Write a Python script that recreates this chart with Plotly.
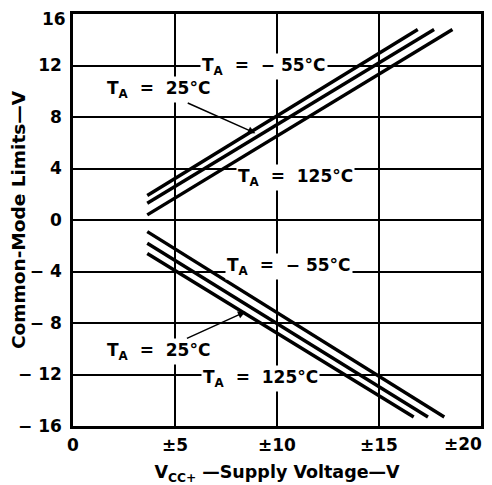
import plotly.graph_objects as go

# supply voltage (±V) at the start / end of each curve, and the common-mode limit there
upper_vcc = {"-55": [3.64, 16.9], "25": [3.64, 17.7], "125": [3.64, 18.6]}
upper_vcm = {"-55": [1.9, 14.8], "25": [1.3, 14.8], "125": [0.4, 14.8]}
lower_vcc = {"-55": [3.64, 18.2], "25": [3.64, 17.4], "125": [3.64, 16.7]}
lower_vcm = {"-55": [-0.9, -15.3], "25": [-1.8, -15.3], "125": [-2.6, -15.3]}

x_ticks = [0, 5, 10, 15, 20]
x_labels = ["0", "±5", "±10", "±15", ""]
y_ticks = [-16, -12, -8, -4, 0, 4, 8, 12, 16]
y_labels = ["− 16", "− 12", "− 8", "− 4", "0", "4", "8", "12", ""]

FONT = "DejaVu Sans"

fig = go.Figure()
for t in ["-55", "25", "125"]:
    fig.add_trace(go.Scatter(x=upper_vcc[t], y=upper_vcm[t], mode="lines",
                             line=dict(color="black", width=3.4), showlegend=False))
    fig.add_trace(go.Scatter(x=lower_vcc[t], y=lower_vcm[t], mode="lines",
                             line=dict(color="black", width=3.4), showlegend=False))

lbl = dict(family=FONT, size=17, color="black", weight="bold")
annots = [
    dict(x=9.35, y=11.95, text="T<sub>A</sub>  =  − 55°C", showarrow=False),
    dict(x=10.9, y=3.3, text="T<sub>A</sub>  =  125°C", showarrow=False),
    dict(x=10.6, y=-3.6, text="T<sub>A</sub>  =  − 55°C", showarrow=False),
    dict(x=9.2, y=-12.3, text="T<sub>A</sub>  =  125°C", showarrow=False),
    dict(x=8.94, y=6.74, ax=4.2, ay=10.1, axref="x", ayref="y",
         text="T<sub>A</sub>  =  25°C", showarrow=True),
    dict(x=8.45, y=-7.13, ax=4.18, ay=-10.2, axref="x", ayref="y",
         text="T<sub>A</sub>  =  25°C", showarrow=True),
]
for a in annots:
    a.update(font=lbl, bgcolor="white", borderpad=1,
             arrowhead=2, arrowsize=1, arrowwidth=1.5, arrowcolor="black")
    fig.add_annotation(**a)

tick_font = dict(family=FONT, size=17, color="black", weight="bold")
# end tick labels that sit at the very edge of the page, nudged inwards
fig.add_annotation(x=20, y=0, yref="paper", text="±20", showarrow=False,
                   xanchor="right", yanchor="top", xshift=3, yshift=-6, font=tick_font)
fig.add_annotation(x=0, xref="paper", y=16, text="16", showarrow=False,
                   xanchor="right", yanchor="middle", xshift=-5, yshift=-5, font=tick_font)

fig.update_xaxes(range=[0, 20], tickvals=x_ticks, ticktext=x_labels,
                 showgrid=True, gridcolor="black", gridwidth=1.5,
                 showline=True, linecolor="black", linewidth=2.5, mirror=True,
                 zeroline=False, ticks="", ticklabelstandoff=2, automargin=False,
                 tickfont=tick_font,
                 title=dict(text="V<sub>CC+</sub> —Supply Voltage—V", standoff=16,
                            font=dict(family=FONT, size=17.5, color="black", weight="bold")))
fig.update_yaxes(range=[-16, 16], tickvals=y_ticks, ticktext=y_labels,
                 showgrid=True, gridcolor="black", gridwidth=1.5,
                 showline=True, linecolor="black", linewidth=2.5, mirror=True,
                 zeroline=False, ticks="", ticklabelstandoff=5, automargin=False,
                 tickfont=tick_font,
                 title=dict(text="Common-Mode Limits—V", standoff=0,
                            font=dict(family=FONT, size=18.5, color="black", weight="bold")))

# the page has an 8px body margin, so the figure is drawn 8px in from the top-left
fig.update_layout(width=484, height=477, plot_bgcolor="white", paper_bgcolor="white",
                  margin=dict(l=65, r=11, t=6, b=59), showlegend=False)

fig.write_html("out.html")
